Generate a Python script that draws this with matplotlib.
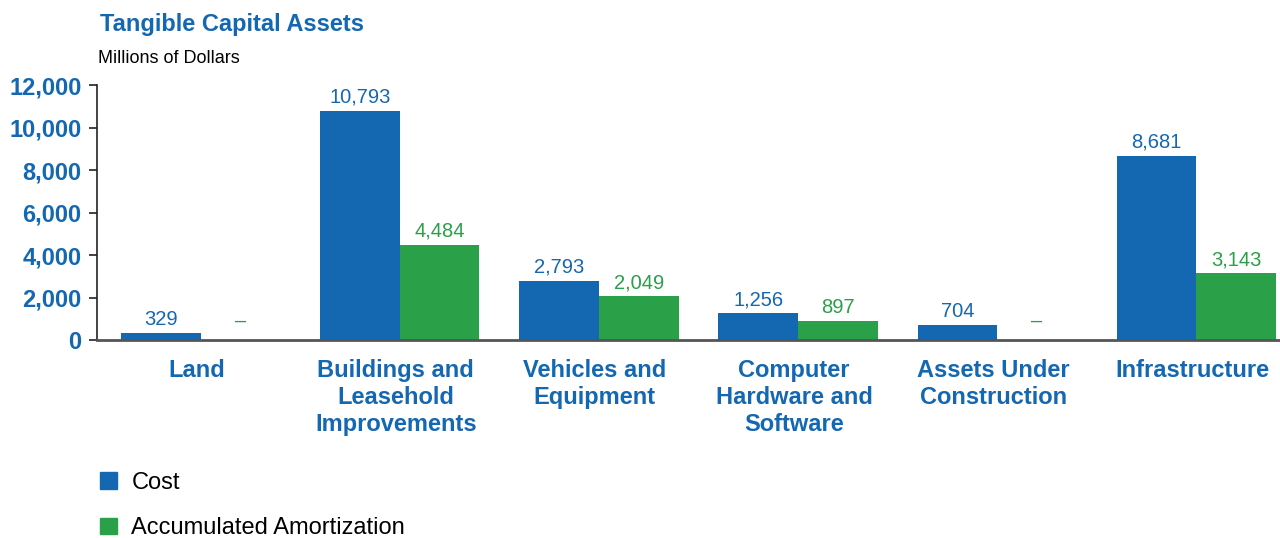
import numpy as np
import matplotlib.pyplot as plt
from matplotlib.patches import Patch

plt.rcParams["font.family"] = ["Liberation Sans", "DejaVu Sans"]

BLUE = "#1467b1"
GREEN = "#2aa048"

categories = [
    "Land",
    "Buildings and\nLeasehold\nImprovements",
    "Vehicles and\nEquipment",
    "Computer\nHardware and\nSoftware",
    "Assets Under\nConstruction",
    "Infrastructure",
]
cost = [329, 10793, 2793, 1256, 704, 8681]
amortization = [None, 4484, 2049, 897, None, 3143]
yticks = [0, 2000, 4000, 6000, 8000, 10000, 12000]

fig = plt.figure(figsize=(12.8, 5.38), dpi=100)
ax = fig.add_axes([0.0758, 0.368, 0.9242, 0.474])

x = np.arange(len(categories))
w = 0.4
amort_vals = [v if v is not None else 0 for v in amortization]
ax.bar(x - w / 2, cost, w, color=BLUE, label="Cost")
ax.bar(x + w / 2, amort_vals, w, color=GREEN, label="Accumulated Amortization")

for xi, v in zip(x, cost):
    ax.text(xi - w / 2, v + 180, f"{v:,}", ha="center", va="bottom",
            color=BLUE, fontsize=14.5)
for xi, v in zip(x, amortization):
    # no amortization reported: show a dash at the height of the smallest label
    label = f"{v:,}" if v is not None else "–"
    y = v + 180 if v is not None else 329 + 120
    ax.text(xi + w / 2, y, label, ha="center", va="bottom",
            color=GREEN, fontsize=14.5)

ax.set_xlim(-0.52, 5.42)
ax.set_ylim(0, 12000)
ax.set_yticks(yticks)
ax.set_yticklabels([f"{t:,}" for t in yticks], color=BLUE,
                   fontsize=17, fontweight="bold")
ax.set_xticks(x - 0.02)
ax.set_xticklabels(categories, color=BLUE, fontsize=17,
                   fontweight="bold", linespacing=1.2)
ax.tick_params(axis="x", length=0, pad=14)
ax.tick_params(axis="y", length=6, width=1.2, color="#222222", pad=5)

for s in ("top", "right"):
    ax.spines[s].set_visible(False)
ax.spines["left"].set_color("#222222")
ax.spines["left"].set_linewidth(1.2)
ax.spines["bottom"].set_color("#555555")
ax.spines["bottom"].set_linewidth(2)

fig.text(0.078, 0.955, "Tangible Capital Assets", color=BLUE,
         fontsize=17, fontweight="bold", va="center")
fig.text(0.0765, 0.891, "Millions of Dollars", color="black",
         fontsize=13, va="center")

handles = [Patch(color=BLUE, label="Cost"),
           Patch(color=GREEN, label="Accumulated Amortization")]
fig.legend(handles=handles, loc="upper left", bbox_to_anchor=(0.071, 0.141),
           frameon=False, fontsize=17, handlelength=0.72, handleheight=0.72,
           handletextpad=0.6, labelspacing=1.0, borderaxespad=0)

fig.savefig("out.png", dpi=100)
